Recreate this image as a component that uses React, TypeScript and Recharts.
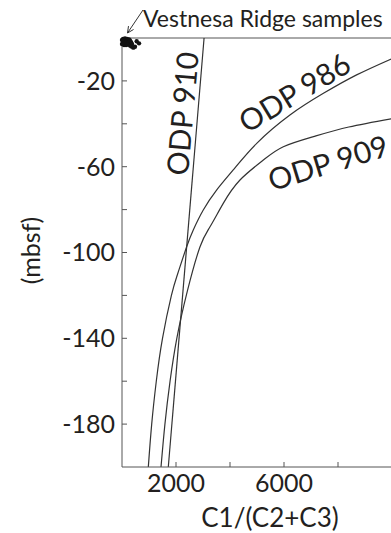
import React from "react"
import {
  ComposedChart,
  Line,
  Scatter,
  XAxis,
  YAxis,
  ReferenceLine,
  ReferenceDot,
} from "recharts"

// depth (mbsf, negative down) vs C1/(C2+C3)
const odp910 = [
  { x: 3040, d: 0 },
  { x: 1715, d: -200 },
]

const odp986 = [
  { x: 10000, d: -9.6 },
  { x: 8690, d: -17.2 },
  { x: 7460, d: -25.8 },
  { x: 6220, d: -35.9 },
  { x: 4990, d: -49.1 },
  { x: 4120, d: -61.5 },
  { x: 3510, d: -70.8 },
  { x: 3010, d: -80.2 },
  { x: 2640, d: -89.5 },
  { x: 2395, d: -97.3 },
  { x: 2060, d: -110 },
  { x: 1830, d: -120 },
  { x: 1500, d: -140 },
  { x: 1270, d: -160 },
  { x: 1100, d: -180 },
  { x: 975, d: -200 },
]

const odp909 = [
  { x: 10000, d: -37.6 },
  { x: 8400, d: -41.5 },
  { x: 7090, d: -46.0 },
  { x: 5975, d: -50.7 },
  { x: 5235, d: -56.9 },
  { x: 4370, d: -66.2 },
  { x: 3750, d: -77.1 },
  { x: 3260, d: -88.0 },
  { x: 2890, d: -97.3 },
  { x: 2420, d: -118 },
  { x: 2030, d: -140 },
  { x: 1780, d: -160 },
  { x: 1590, d: -180 },
  { x: 1445, d: -200 },
]

const vestnesa = [
  { x: 40, d: -0.5 }, { x: 110, d: -0.2 }, { x: 185, d: -0.5 }, { x: 260, d: -0.7 },
  { x: 75, d: -1.4 }, { x: 150, d: -1.6 }, { x: 220, d: -1.4 }, { x: 295, d: -1.2 },
  { x: 40, d: -2.3 }, { x: 110, d: -2.6 }, { x: 185, d: -2.3 }, { x: 260, d: -2.1 },
  { x: 335, d: -1.9 }, { x: 75, d: -3.3 }, { x: 150, d: -3.3 }, { x: 220, d: -3.0 },
  { x: 295, d: -3.5 }, { x: 370, d: -2.8 }, { x: 0, d: -0.9 }, { x: 0, d: -2.8 },
  { x: 545, d: -1.5 }, { x: 480, d: -4.1 }, { x: 630, d: -2.5 }, { x: 420, d: -4.5 },
  { x: 350, d: -4.0 },
]

const xTicks = [2000, 4000, 6000, 8000]
const xLabelled = [2000, 6000]
const yTicks = [-20, -40, -60, -80, -100, -120, -140, -160, -180]
const yLabelled = [-20, -60, -100, -140, -180]

const FONT = "Lato, 'Open Sans', sans-serif"
const INK = "#231f20"
const AXIS = "#555"

function CurveLabel(props: any) {
  const { viewBox, caption, rot } = props
  const cx = viewBox.x + viewBox.width / 2
  const cy = viewBox.y + viewBox.height / 2
  return (
    <text
      x={cx}
      y={cy}
      textAnchor="middle"
      dominantBaseline="central"
      fontFamily={FONT}
      fontSize={30}
      fill={INK}
      transform={`rotate(${rot} ${cx} ${cy})`}
    >
      {caption}
    </text>
  )
}

function SamplesNote(props: any) {
  const { viewBox } = props
  const px = viewBox.x + viewBox.width / 2
  const py = viewBox.y + viewBox.height / 2
  const tail = { x: px + 21, y: py - 28 }
  const tip = { x: px + 5.5, y: py - 5 }
  const ang = Math.atan2(tip.y - tail.y, tip.x - tail.x)
  const len = 7
  const spread = 0.45
  const h1 = {
    x: tip.x - len * Math.cos(ang - spread),
    y: tip.y - len * Math.sin(ang - spread),
  }
  const h2 = {
    x: tip.x - len * Math.cos(ang + spread),
    y: tip.y - len * Math.sin(ang + spread),
  }
  return (
    <g>
      <line x1={tail.x} y1={tail.y} x2={tip.x} y2={tip.y} stroke="#333" strokeWidth={1} />
      <polyline
        points={`${h1.x},${h1.y} ${tip.x},${tip.y} ${h2.x},${h2.y}`}
        fill="none"
        stroke="#333"
        strokeWidth={1}
      />
      <text x={px + 21} y={py - 11} fontFamily={FONT} fontSize={23} fill={INK}>
        Vestnesa Ridge samples
      </text>
    </g>
  )
}

function XTitle(props: any) {
  const { viewBox } = props
  return (
    <text
      x={viewBox.x + 148}
      y={viewBox.y + 50}
      textAnchor="middle"
      dominantBaseline="central"
      fontFamily={FONT}
      fontSize={26}
      fill={INK}
    >
      C1/(C2+C3)
    </text>
  )
}

function YTitle(props: any) {
  const { viewBox } = props
  const x = viewBox.x + 30
  const y = viewBox.y + viewBox.height / 2 - 2
  return (
    <text
      x={x}
      y={y}
      textAnchor="middle"
      dominantBaseline="central"
      fontFamily={FONT}
      fontSize={25}
      fill={INK}
      transform={`rotate(-90 ${x} ${y})`}
    >
      (mbsf)
    </text>
  )
}

const dotShape = (p: any) => <circle cx={p.cx} cy={p.cy} r={2.2} fill="#111" />

export default function App() {
  // pinned to the viewport corner so the body margin plays no part
  return (
    <div
      style={{
        position: "absolute",
        left: 0,
        top: 0,
        width: 391,
        height: 533,
        overflow: "hidden",
        background: "#fff",
      }}
    >
      <ComposedChart
        width={392}
        height={533}
        margin={{ top: 38, right: 0, bottom: 0, left: 0 }}
      >
        <XAxis
          type="number"
          dataKey="x"
          domain={[0, 10000]}
          ticks={xTicks}
          tickFormatter={(v: number) => (xLabelled.includes(v) ? String(v) : "")}
          tickSize={-5}
          tickMargin={12}
          height={66}
          stroke={AXIS}
          tick={{ fontSize: 25, fill: INK, fontFamily: FONT }}
          label={<XTitle />}
        />
        <YAxis
          type="number"
          dataKey="d"
          domain={[-200, 0]}
          ticks={yTicks}
          tickFormatter={(v: number) => (yLabelled.includes(v) ? String(v) : "")}
          tickSize={-5}
          tickMargin={12}
          width={122}
          stroke={AXIS}
          tick={{ fontSize: 25, fill: INK, fontFamily: FONT }}
          label={<YTitle />}
        />
        <ReferenceLine y={0} stroke={AXIS} strokeWidth={1} />
        <Line
          data={odp910}
          dataKey="d"
          type="linear"
          stroke="#333"
          strokeWidth={1.2}
          dot={false}
          isAnimationActive={false}
        />
        <Line
          data={odp986}
          dataKey="d"
          type="natural"
          stroke="#333"
          strokeWidth={1.2}
          dot={false}
          isAnimationActive={false}
        />
        <Line
          data={odp909}
          dataKey="d"
          type="natural"
          stroke="#333"
          strokeWidth={1.2}
          dot={false}
          isAnimationActive={false}
        />
        <Scatter data={vestnesa} shape={dotShape} isAnimationActive={false} />
        <ReferenceDot x={2200} y={-35.2} r={0} fill="none" stroke="none"
          label={<CurveLabel caption="ODP 910" rot={-85} />} />
        <ReferenceDot x={6370} y={-25} r={0} fill="none" stroke="none"
          label={<CurveLabel caption="ODP 986" rot={-31} />} />
        <ReferenceDot x={7620} y={-57.7} r={0} fill="none" stroke="none"
          label={<CurveLabel caption="ODP 909" rot={-17} />} />
        <ReferenceDot x={0} y={0} r={0} fill="none" stroke="none"
          label={<SamplesNote />} />
      </ComposedChart>
    </div>
  )
}
